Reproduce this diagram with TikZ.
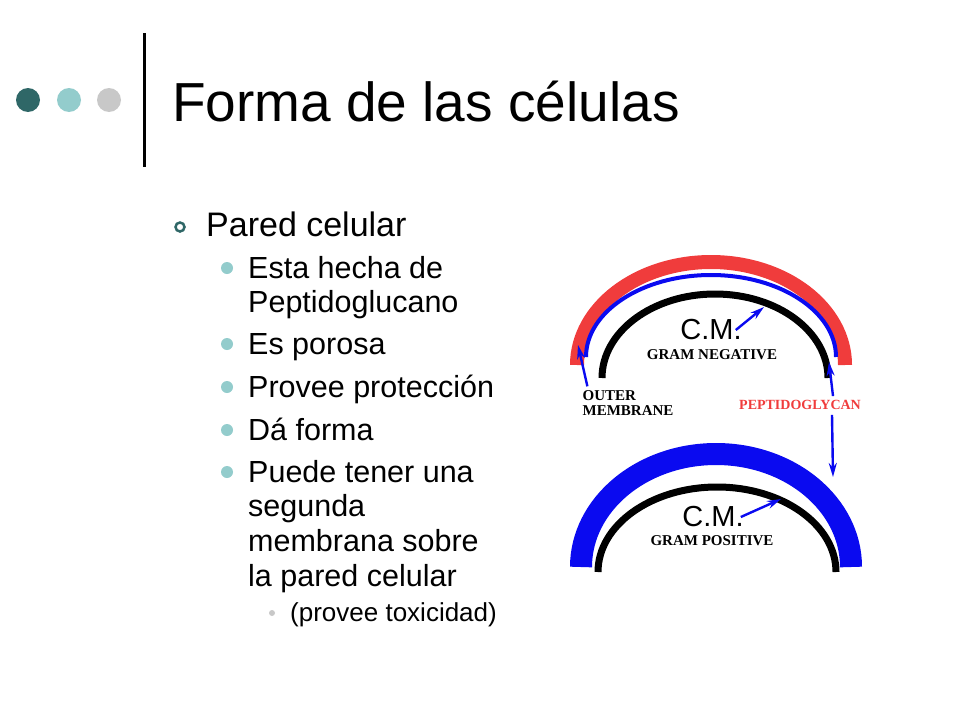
\documentclass[tikz,border=0pt]{standalone}
\usepackage{fontspec}
\setmainfont{Liberation Sans}
\newfontfamily\labelfont{Liberation Serif}
\usetikzlibrary{arrows.meta}
\definecolor{dotdark}{HTML}{2F6767}
\definecolor{dotlight}{HTML}{93CCCC}
\definecolor{dotgrey}{HTML}{C8C8C8}
\definecolor{wallred}{HTML}{F03C3C}
\definecolor{wallblue}{HTML}{0A0AF0}
\tikzset{
  txt/.style={anchor=base west, inner sep=0pt},
  item/.style={txt, font=\fontsize{30.5}{34}\selectfont},
  lbl/.style={inner sep=0pt, font=\labelfont\bfseries\fontsize{15}{15}\selectfont},
  cmlabel/.style={inner sep=0pt, font=\fontsize{29}{32}\selectfont},
  ptr/.style={wallblue, line width=2.4pt, -{Stealth[length=14pt,width=8pt]}}
}
\begin{document}
\begin{tikzpicture}[x=1pt,y=-1pt]
    \useasboundingbox (0,0) rectangle (960,720);
    % header
    \fill[dotdark]  (28,100) circle (12);
    \fill[dotlight] (69,100) circle (12);
    \fill[dotgrey]  (109,100) circle (12);
    \draw[line width=3pt] (144,33) -- (144,167);
    \node[txt, font=\fontsize{55}{60}\selectfont] (title) at (172,121) {Forma de las células};

    % bullets
    \draw[dotdark, line width=2.5pt] (180,227) circle (4.5);
    \node[txt, font=\fontsize{34}{38}\selectfont] (pared) at (206,236) {Pared celular};
    \foreach \y in {278,354,397,440,482} \fill[dotlight] (227,\y-10) circle (6);
    \node[item] (i1) at (248,278) {Esta hecha de};
    \node[item] (i1b) at (248,312) {Peptidoglucano};
    \node[item] (i2) at (248,354) {Es porosa};
    \node[item] (i3) at (248,397) {Provee protección};
    \node[item] (i4) at (248,440) {Dá forma};
    \node[item] (i5) at (248,482) {Puede tener una};
    \node[item] (i5b) at (248,516) {segunda};
    \node[item] (i5c) at (248,551) {membrana sobre};
    \node[item] (i5d) at (248,586) {la pared celular};
    \fill[dotgrey] (272,613) circle (3);
    \node[txt, font=\fontsize{26}{30}\selectfont] (i6) at (290,621) {(provee toxicidad)};

    % gram negative
    \draw[wallred, line width=14pt] (577,365) arc[start angle=180, end angle=360, x radius=134, y radius=103];
    \draw[wallblue, line width=4pt] (586,357) arc[start angle=180, end angle=360, x radius=125, y radius=82];
    \draw[line width=7pt] (602,378) arc[start angle=180, end angle=360, x radius=113, y radius=84];
    \node[cmlabel] (cmneg) at (711,330) {C.M.};
    \node[lbl] (gneg) at (712,355) {GRAM NEGATIVE};
    \node[lbl, align=left] (outer) at (628,403) {OUTER\\MEMBRANE};
    \node[lbl, text=wallred, font=\labelfont\bfseries\fontsize{14}{14}\selectfont] (pepti) at (800,405) {PEPTIDOGLYCAN};
    \coordinate (omtip) at (578,345);
    \coordinate (cmnegtip) at (764,307);
    \coordinate (peptip) at (829,362);
    \coordinate (gpostip) at (833,477);
    \draw[ptr] (outer.north west) ++(5,-4) -- (omtip);
    \draw[ptr] (cmneg.east) ++(-6,0) -- (cmnegtip);
    \draw[ptr] (pepti.north) ++(33,-4) -- (peptip);
    \draw[ptr] (pepti.south) ++(32,5) -- (gpostip);

    % gram positive
    \draw[wallblue, line width=22pt] (581,567) arc[start angle=180, end angle=360, x radius=135, y radius=113];
    \draw[line width=7pt] (598,572) arc[start angle=180, end angle=360, x radius=119, y radius=85];
    \node[cmlabel] (cmpos) at (713,517) {C.M.};
    \node[lbl] (gpos) at (712,541) {GRAM POSITIVE};
    \coordinate (cmpostip) at (781,499);
    \draw[ptr] (cmpos.east) ++(-3,0) -- (cmpostip);
\end{tikzpicture}
\end{document}
